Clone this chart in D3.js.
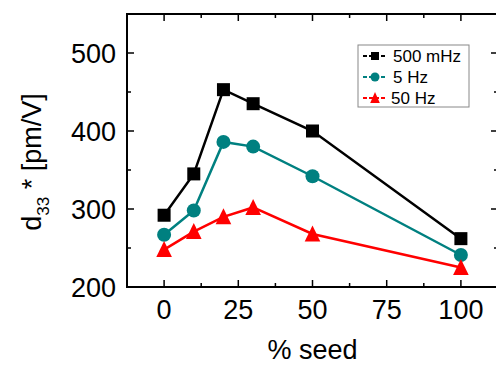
<!DOCTYPE html>
<html><head><meta charset="utf-8">
<script src="https://cdn.jsdelivr.net/npm/d3@7"></script>
<style>body{margin:0;background:#fff}svg{display:block;font-family:"Liberation Sans",Arial,sans-serif}</style>
</head><body>
<script>
const seed = [0, 10, 20, 30, 50, 100];
const series = ["500 mHz", "5 Hz", "50 Hz"];
const d500mHz = [292, 345, 453, 435, 400, 262];
const d5Hz = [267, 298, 386, 380, 342, 241];
const d50Hz = [248, 271, 290, 302, 268, 225];
const xTicks = [0, 25, 50, 75, 100];
const yTicks = [200, 300, 400, 500];
const colors = ["#000000", "#008080", "#ff0000"];
const shapes = ["square", "circle", "triangle"];
const values = [d500mHz, d5Hz, d50Hz];

const W = 496, H = 366;
const L = 127, R = 498, T = 14, B = 287;
const svg = d3.select("body").append("svg").attr("width", W).attr("height", H);
const x = d3.scaleLinear().domain([-12.5, 112.5]).range([L, R]);
const y = d3.scaleLinear().domain([200, 550]).range([B, T]);

// frame
svg.append("rect").attr("x", L).attr("y", T).attr("width", R - L).attr("height", B - T)
  .attr("fill", "none").attr("stroke", "#000").attr("stroke-width", 2);

const xMinor = [12.5, 37.5, 62.5, 87.5];
const yMinor = [250, 350, 450];
const tk = svg.append("g").attr("stroke", "#000").attr("stroke-width", 1.5);
xTicks.forEach(v => {
  tk.append("line").attr("x1", x(v)).attr("x2", x(v)).attr("y1", B).attr("y2", B - 7);
  tk.append("line").attr("x1", x(v)).attr("x2", x(v)).attr("y1", T).attr("y2", T + 7);
});
xMinor.forEach(v => {
  tk.append("line").attr("x1", x(v)).attr("x2", x(v)).attr("y1", B).attr("y2", B - 4);
  tk.append("line").attr("x1", x(v)).attr("x2", x(v)).attr("y1", T).attr("y2", T + 4);
});
yTicks.forEach(v => {
  tk.append("line").attr("x1", L).attr("x2", L + 7).attr("y1", y(v)).attr("y2", y(v));
  tk.append("line").attr("x1", R).attr("x2", R - 7).attr("y1", y(v)).attr("y2", y(v));
});
yMinor.forEach(v => {
  tk.append("line").attr("x1", L).attr("x2", L + 4).attr("y1", y(v)).attr("y2", y(v));
  tk.append("line").attr("x1", R).attr("x2", R - 4).attr("y1", y(v)).attr("y2", y(v));
});

// tick labels
svg.append("g").selectAll("text").data(xTicks).join("text")
  .attr("x", d => x(d)).attr("y", 319).attr("text-anchor", "middle")
  .attr("font-size", 27).attr("fill", "#000").text(d => d);
svg.append("g").selectAll("text").data(yTicks).join("text")
  .attr("x", 116).attr("y", d => y(d) + 9.5).attr("text-anchor", "end")
  .attr("font-size", 27).attr("fill", "#000").text(d => d);

// axis titles
svg.append("text").attr("x", (L + R) / 2).attr("y", 359).attr("text-anchor", "middle")
  .attr("font-size", 27).text("% seed");
const yl = svg.append("text").attr("transform", "translate(41,162) rotate(-90)")
  .attr("text-anchor", "middle").attr("font-size", 27);
yl.append("tspan").text("d");
yl.append("tspan").attr("font-size", 17).attr("dy", 8).text("33");
yl.append("tspan").attr("dy", -8).text(" * [pm/V]");

function marker(g, shape, cx, cy, s, color) {
  if (shape === "square") {
    g.append("rect").attr("x", cx - s / 2).attr("y", cy - s / 2).attr("width", s).attr("height", s).attr("fill", color);
  } else if (shape === "circle") {
    g.append("circle").attr("cx", cx).attr("cy", cy).attr("r", s / 2 + 0.5).attr("fill", color);
  } else {
    const h = s * 1.0, w = s * 1.2;
    g.append("path").attr("d", `M${cx - w / 2},${cy + h / 2 + 1}L${cx + w / 2},${cy + h / 2 + 1}L${cx},${cy - h / 2 - 2}Z`).attr("fill", color);
  }
}

const line = d3.line().x((d, i) => x(seed[i])).y(d => y(d));
values.forEach((vals, k) => {
  const g = svg.append("g");
  g.append("path").attr("d", line(vals)).attr("fill", "none").attr("stroke", colors[k]).attr("stroke-width", 2.5);
  vals.forEach((v, i) => marker(g, shapes[k], x(seed[i]), y(v), 13, colors[k]));
});

// legend
const lg = svg.append("g");
lg.append("rect").attr("x", 358).attr("y", 45).attr("width", 111).attr("height", 62)
  .attr("fill", "#fff").attr("stroke", "#888").attr("stroke-width", 1);
const ly = [56, 77, 98];
series.forEach((s, k) => {
  lg.append("line").attr("x1", 363).attr("x2", 387).attr("y1", ly[k]).attr("y2", ly[k])
    .attr("stroke", colors[k]).attr("stroke-width", 2.2).attr("stroke-dasharray", "4,2");
  marker(lg, shapes[k], 375, ly[k], 8, colors[k]);
  lg.append("text").attr("x", k === 2 ? 391 : 393).attr("y", ly[k] + 6).attr("font-size", 17).text(s);
});
</script>
</body></html>
